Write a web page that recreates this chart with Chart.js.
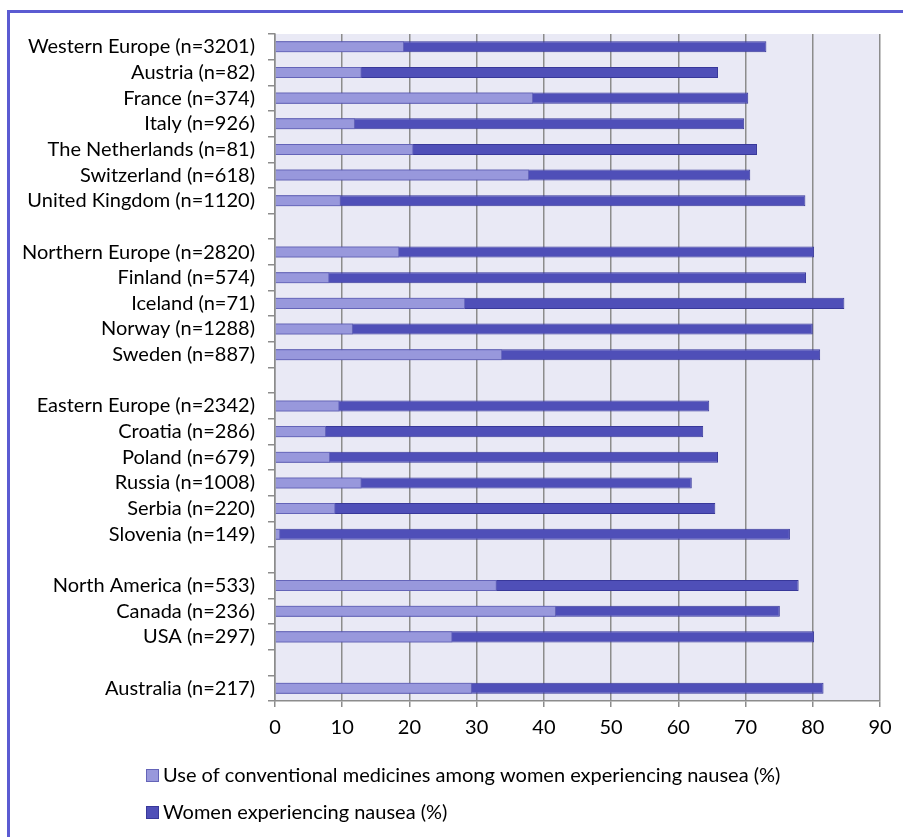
<!DOCTYPE html>
<html>
<head>
<meta charset="utf-8">
<script src="https://cdn.jsdelivr.net/npm/chart.js@4.4.0/dist/chart.umd.min.js"></script>
<style>
    body { margin: 0; background: #ffffff; overflow: hidden; }
    #frame {
        position: absolute; left: 7px; top: 10px; width: 1000px; height: 1000px;
        border-top: 3px solid #5b5bd2; border-left: 3px solid #5b5bd2;
    }
    #nauseaChart { position: absolute; left: 0; top: 0; }
</style>
</head>
<body>
<div id="frame"></div>
<canvas id="nauseaChart" width="903" height="837"></canvas>
<script>
// empty labels leave a blank row between the regions
const categories = [
    'Western Europe (n=3201)', 'Austria (n=82)', 'France (n=374)', 'Italy (n=926)',
    'The Netherlands (n=81)', 'Switzerland (n=618)', 'United Kingdom (n=1120)', '',
    'Northern Europe (n=2820)', 'Finland (n=574)', 'Iceland (n=71)', 'Norway (n=1288)',
    'Sweden (n=887)', '',
    'Eastern Europe (n=2342)', 'Croatia (n=286)', 'Poland (n=679)', 'Russia (n=1008)',
    'Serbia (n=220)', 'Slovenia (n=149)', '',
    'North America (n=533)', 'Canada (n=236)', 'USA (n=297)', '',
    'Australia (n=217)'
];
const medicineUse = [19.2, 12.9, 38.4, 11.9, 20.6, 37.8, 9.8, null,
    18.5, 8.1, 28.3, 11.6, 33.8, null,
    9.6, 7.6, 8.2, 12.9, 9.0, 0.8, null,
    33.0, 41.8, 26.4, null,
    29.3];
const nausea = [73.1, 65.9, 70.4, 69.8, 71.7, 70.7, 78.9, null,
    80.2, 79.0, 84.7, 80.0, 81.1, null,
    64.6, 63.7, 65.9, 62.0, 65.5, 76.6, null,
    77.9, 75.1, 80.2, null,
    81.6];
const seriesLabels = ['Use of conventional medicines among women experiencing nausea (%)', 'Women experiencing nausea (%)'];
const xMin = 0, xMax = 90, xStep = 10;

Chart.defaults.font.family = 'Lato';
Chart.defaults.font.size = 20;
Chart.defaults.color = '#000000';

// light lavender fill behind the bars
const plotBackground = {
    id: 'plotBackground',
    beforeDraw(chart) {
        const { ctx, chartArea: a } = chart;
        ctx.save();
        ctx.fillStyle = '#e9e9f5';
        ctx.fillRect(a.left, a.top, a.right - a.left, a.bottom - a.top);
        ctx.restore();
    }
};

// legend below the axis, one series per line
const stackedLegend = {
    id: 'stackedLegend',
    afterDraw(chart) {
        const ctx = chart.ctx;
        ctx.save();
        ctx.font = '20px Lato';
        ctx.textBaseline = 'middle';
        chart.data.datasets.forEach((ds, i) => {
            const y = 775 + i * 37;
            ctx.fillStyle = ds.backgroundColor;
            ctx.fillRect(146, y - 6, 13, 13);
            ctx.strokeStyle = ds.borderColor;
            ctx.lineWidth = 1;
            ctx.strokeRect(146.5, y - 5.5, 12, 12);
            ctx.fillStyle = '#000000';
            ctx.fillText(ds.label, 163, y + 1);
        });
        ctx.restore();
    }
};

const ctx = document.getElementById('nauseaChart');

new Chart(ctx, {
    type: 'bar',
    data: {
        labels: categories,
        datasets: [{
            label: seriesLabels[0],
            data: medicineUse,
            backgroundColor: '#9898dc',
            borderColor: '#6464b8',
            borderWidth: 1,
            barPercentage: 0.43,
            categoryPercentage: 1
        }, {
            label: seriesLabels[1],
            data: nausea,
            backgroundColor: '#4f4fb8',
            borderColor: '#38389a',
            borderWidth: 1,
            barPercentage: 0.43,
            categoryPercentage: 1
        }]
    },
    options: {
        indexAxis: 'y',
        responsive: false,
        animation: false,
        layout: { padding: { top: 34, right: 23, bottom: 96, left: 0 } },
        plugins: {
            legend: { display: false },
            tooltip: { enabled: false }
        },
        scales: {
            y: {
                stacked: true, // both series share one row, bars overlap
                afterFit(scale) { scale.width = 275; },
                grid: {
                    offset: true,
                    drawOnChartArea: false,
                    tickLength: 7,
                    color: '#8c8c8c',
                    lineWidth: 1.5
                },
                border: { color: '#8c8c8c', width: 1.5 },
                ticks: { padding: 13, autoSkip: false, color: '#000000' }
            },
            x: {
                min: xMin,
                max: xMax,
                afterFit(scale) { scale.height = 40; },
                grid: {
                    tickLength: 6,
                    color: '#8c8c8c',
                    lineWidth: 1.5
                },
                border: { color: '#8c8c8c', width: 1.5 },
                ticks: { stepSize: xStep, padding: 9, color: '#000000' }
            }
        }
    },
    plugins: [plotBackground, stackedLegend]
});
</script>
</body>
</html>
